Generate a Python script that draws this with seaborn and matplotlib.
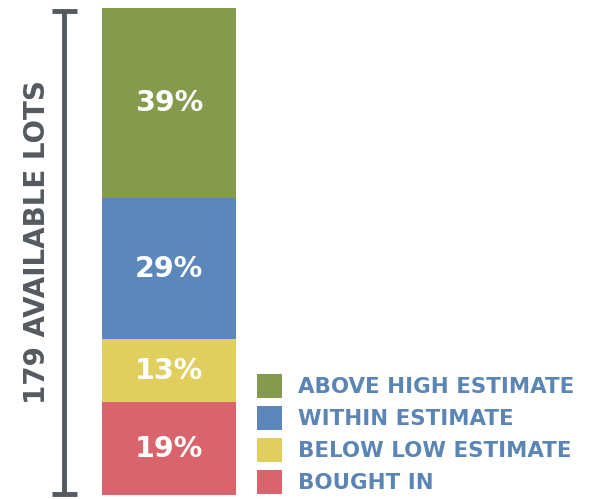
import matplotlib
matplotlib.use("Agg")
import matplotlib.pyplot as plt
import seaborn as sns
import pandas as pd
import numpy as np
from matplotlib.patches import Patch

categories = ["BOUGHT IN", "BELOW LOW ESTIMATE", "WITHIN ESTIMATE", "ABOVE HIGH ESTIMATE"]
shares = [19, 13, 29, 39]
labels = ["19%", "13%", "29%", "39%"]
colors = ["#d9646b", "#e0cf5e", "#5b87ba", "#869a4e"]
total_label = "179 AVAILABLE LOTS"

sns.set_style("white")
plt.rcParams["font.family"] = ["DejaVu Sans"]

W, H = 596, 499
fig = plt.figure(figsize=(W / 100, H / 100), dpi=100)
ax = fig.add_axes([102 / W, 4 / H, 134 / W, 487 / H])

df = pd.DataFrame({"cat": categories, "share": shares})
df["top"] = df["share"].cumsum()
df["bottom"] = df["top"] - df["share"]

# stacked bar: draw cumulative tops from the largest down
for i in range(len(df) - 1, -1, -1):
    sns.barplot(x=["lots"], y=[df["top"].iloc[i]], color=colors[i],
                width=1.0, saturation=1, ax=ax, edgecolor="none", linewidth=0)

for i in range(len(df)):
    mid = df["bottom"].iloc[i] + df["share"].iloc[i] / 2
    ax.text(0, mid, labels[i], ha="center", va="center", color="white",
            fontsize=20.5, fontweight="bold")

ax.set_xlim(-0.5, 0.5)
ax.set_ylim(0, 100)
ax.axis("off")

# bracket on the left
bx = 64 / W
y0, y1 = 1 - 494 / H, 1 - 11 / H
fig.add_artist(plt.Line2D([bx, bx], [y0, y1], color="#555a60", lw=3.5,
                          solid_capstyle="butt"))
for yy in (y0, y1):
    fig.add_artist(plt.Line2D([52 / W, 77 / W], [yy, yy], color="#555a60", lw=3.5,
                              solid_capstyle="butt"))
fig.text(37 / W, 1 - 242 / H, total_label, rotation=90, ha="center", va="center",
         color="#555a60", fontsize=20, fontweight="bold")

handles = [Patch(facecolor=c, edgecolor="none") for c in colors[::-1]]
leg = fig.legend(handles, categories[::-1], loc="upper left",
                 bbox_to_anchor=(257 / W, 1 - 374 / H), frameon=False,
                 handlelength=1.17, handleheight=1.35, handletextpad=0.75,
                 labelspacing=0.374, borderaxespad=0, borderpad=0,
                 prop={"size": 15.4, "weight": "bold"})
for t in leg.get_texts():
    t.set_color("#5b85b5")

fig.savefig("out.png", dpi=100)
